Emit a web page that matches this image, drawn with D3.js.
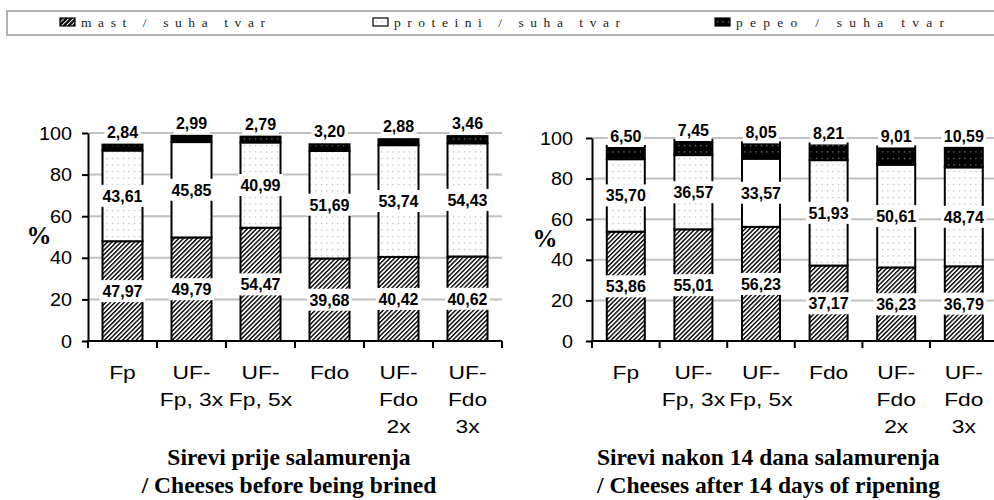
<!DOCTYPE html>
<html>
<head>
<meta charset="utf-8">
<script src="https://cdn.jsdelivr.net/npm/d3@7"></script>
<style>
  body { margin: 0; background: #fff; }
  svg { display: block; }
</style>
</head>
<body>
<svg id="chart" width="994" height="500"></svg>
<script>
// categories (wrapped label lines) and values
var categories = ["Fp", "UF-Fp, 3x", "UF-Fp, 5x", "Fdo", "UF-Fdo 2x", "UF-Fdo 3x"];
var categoryLines = [["Fp"], ["UF-", "Fp, 3x"], ["UF-", "Fp, 5x"], ["Fdo"], ["UF-", "Fdo", "2x"], ["UF-", "Fdo", "3x"]];

var mastBefore = [47.97, 49.79, 54.47, 39.68, 40.42, 40.62];
var proteinBefore = [43.61, 45.85, 40.99, 51.69, 53.74, 54.43];
var ashBefore = [2.84, 2.99, 2.79, 3.20, 2.88, 3.46];

var mastAfter = [53.86, 55.01, 56.23, 37.17, 36.23, 36.79];
var proteinAfter = [35.70, 36.57, 33.57, 51.93, 50.61, 48.74];
var ashAfter = [6.50, 7.45, 8.05, 8.21, 9.01, 10.59];

var yTicks = [0, 20, 40, 60, 80, 100];
var legendNames = ["mast / suha tvar", "proteini / suha tvar", "pepeo / suha tvar"];
var titlesBefore = ["Sirevi prije salamurenja", "/ Cheeses before being brined"];
var titlesAfter = ["Sirevi nakon 14 dana salamurenja", "/ Cheeses after 14 days of ripening"];

var SANS = "'Liberation Sans', Arial, sans-serif";
var SERIF = "'Liberation Serif', 'Times New Roman', serif";

var svg = d3.select("#chart");
var fmt = function(v) { return d3.format(".2f")(v).replace(".", ","); };

// patterns
var defs = svg.append("defs");
var hatch = defs.append("pattern").attr("id", "hatch")
    .attr("patternUnits", "userSpaceOnUse").attr("width", 3.2).attr("height", 3.2)
    .attr("patternTransform", "rotate(45)");
hatch.append("rect").attr("width", 3.2).attr("height", 3.2).attr("fill", "#fff");
hatch.append("rect").attr("width", 1.4).attr("height", 3.2).attr("fill", "#000");

var hatchInv = defs.append("pattern").attr("id", "hatchInv")
    .attr("patternUnits", "userSpaceOnUse").attr("width", 3.4).attr("height", 3.4)
    .attr("patternTransform", "rotate(45)");
hatchInv.append("rect").attr("width", 3.4).attr("height", 3.4).attr("fill", "#000");
hatchInv.append("rect").attr("width", 1).attr("height", 3.4).attr("fill", "#fff");

var dots = defs.append("pattern").attr("id", "dots")
    .attr("patternUnits", "userSpaceOnUse").attr("width", 5.5).attr("height", 6.5);
dots.append("rect").attr("width", 5.5).attr("height", 6.5).attr("fill", "#fff");
dots.append("rect").attr("x", 2).attr("y", 2).attr("width", 1).attr("height", 1).attr("fill", "#888");

var ashDots = defs.append("pattern").attr("id", "ashDots")
    .attr("patternUnits", "userSpaceOnUse").attr("width", 5.5).attr("height", 6.5);
ashDots.append("rect").attr("width", 5.5).attr("height", 6.5).attr("fill", "#000");
ashDots.append("rect").attr("x", 2).attr("y", 2).attr("width", 1).attr("height", 1).attr("fill", "#ddd");

// legend
svg.append("rect").attr("x", 7).attr("y", 11).attr("width", 1000).attr("height", 24)
    .attr("fill", "#fff").attr("stroke", "#999").attr("stroke-width", 1.5);

var legendX = [60, 373, 715];
var legendLen = [184, 226, 208];
var legendFill = ["url(#hatchInv)", "url(#dots)", "url(#ashDots)"];
legendNames.forEach(function(name, i) {
    svg.append("rect").attr("x", legendX[i]).attr("y", 18).attr("width", 15).attr("height", 8)
        .attr("fill", legendFill[i]).attr("stroke", "#000").attr("stroke-width", 1.2);
    svg.append("text").attr("x", legendX[i] + 21).attr("y", 27)
        .attr("font-family", SERIF).attr("font-size", 13.5)
        .attr("fill", "#222")
        .attr("textLength", legendLen[i]).attr("lengthAdjust", "spacing")
        .text(name);
});

function drawChart(o) {
    var x = d3.scaleBand().domain(categories).range([o.x0, o.x0 + o.band * 6]);
    var y = d3.scaleLinear().domain([0, 100]).range([o.y0, o.y100]);
    var g = svg.append("g");

    // grid
    g.selectAll(".grid").data(yTicks.filter(function(d) { return d > 0; })).enter()
        .append("line")
        .attr("x1", o.x0).attr("x2", x.range()[1])
        .attr("y1", function(d) { return y(d); }).attr("y2", function(d) { return y(d); })
        .attr("stroke", "#c0c0c0").attr("stroke-width", 2);

    // stacked bars
    var rows = categories.map(function(c, i) {
        return { cat: c, i: i, mast: o.mast[i], protein: o.protein[i], ash: o.ash[i] };
    });
    var bw = o.barW;
    rows.forEach(function(r) {
        var bx = x(r.cat) + (x.bandwidth() - bw) / 2;
        var plain = r.i === o.plain;
        var segs = [
            { lo: 0, hi: r.mast, fill: "url(#hatch)" },
            { lo: r.mast, hi: r.mast + r.protein, fill: plain ? "#fff" : "url(#dots)" },
            { lo: r.mast + r.protein, hi: r.mast + r.protein + r.ash, fill: o.plainAsh === r.i ? "#000" : "url(#ashDots)" }
        ];
        g.selectAll(null).data(segs).enter().append("rect")
            .attr("x", bx).attr("width", bw)
            .attr("y", function(s) { return y(s.hi); })
            .attr("height", function(s) { return y(s.lo) - y(s.hi); })
            .attr("fill", function(s) { return s.fill; })
            .attr("stroke", "#000").attr("stroke-width", 2);
    });

    // axes
    var yAxis = d3.axisLeft(y).tickValues(yTicks).tickSize(6).tickSizeOuter(0).tickFormat("");
    var ya = g.append("g").attr("transform", "translate(" + o.x0 + ",0)").call(yAxis);
    ya.selectAll("path, line").attr("stroke", "#000").attr("stroke-width", 2);

    g.selectAll(".ylab").data(yTicks).enter().append("text")
        .attr("transform", function(d) { return "translate(" + o.tickLabelX + "," + (y(d) + 6.5) + ") scale(1.1,1)"; })
        .attr("text-anchor", "end")
        .attr("font-family", SANS).attr("font-size", 18)
        .text(function(d) { return d; });

    g.append("line").attr("x1", o.x0 - 1).attr("x2", x.range()[1])
        .attr("y1", o.y0).attr("y2", o.y0).attr("stroke", "#000").attr("stroke-width", 2);
    var bounds = categories.map(function(c) { return x(c); }).concat([x.range()[1]]);
    g.selectAll(".xt").data(bounds).enter().append("line")
        .attr("x1", function(d) { return d; }).attr("x2", function(d) { return d; })
        .attr("y1", o.y0).attr("y2", o.y0 + 7)
        .attr("stroke", "#000").attr("stroke-width", 2);

    categories.forEach(function(c, i) {
        var cx = x(c) + x.bandwidth() / 2;
        categoryLines[i].forEach(function(line, k) {
            g.append("text")
                .attr("transform", "translate(" + cx + "," + (379 + k * 27) + ") scale(1.2,1)")
                .attr("text-anchor", "middle")
                .attr("font-family", SANS).attr("font-size", 19)
                .text(line);
        });
    });

    // % label
    g.append("text").attr("x", o.pctX).attr("y", o.pctY + 8)
        .attr("text-anchor", "middle")
        .attr("font-family", SERIF)
        .attr("font-weight", "bold").attr("font-size", 25)
        .text("%");

    // value labels with white boxes
    var labels = [];
    rows.forEach(function(r) {
        var cx = x(r.cat) + x.bandwidth() / 2;
        labels.push({ cx: cx, cy: y(r.mast / 2), v: r.mast });
        labels.push({ cx: cx, cy: y(r.mast + r.protein / 2), v: r.protein });
        labels.push({ cx: cx, cy: y(r.mast + r.protein + r.ash) - o.ashOff, v: r.ash });
    });
    labels.forEach(function(l) {
        var lg = g.append("g");
        var bg = lg.append("rect").attr("fill", "#fff");
        var t = lg.append("text").attr("x", l.cx).attr("y", l.cy + 6)
            .attr("text-anchor", "middle")
            .attr("font-family", SANS)
            .attr("font-weight", "bold").attr("font-size", 16)
            .text(fmt(l.v));
        var w = t.node().getComputedTextLength() + 5;
        bg.attr("x", l.cx - w / 2).attr("y", l.cy - 11).attr("width", w).attr("height", 22);
    });

    // title
    o.titles.forEach(function(tt, k) {
        g.append("text").attr("x", o.titleX).attr("y", 465 + k * 28)
            .attr("text-anchor", o.titleAnchor)
            .attr("font-family", SERIF)
            .attr("font-weight", "bold").attr("font-size", 23.5)
            .text(tt);
    });
}

drawChart({
    mast: mastBefore, protein: proteinBefore, ash: ashBefore,
    x0: 88, band: 69, barW: 40, y0: 341, y100: 133,
    tickLabelX: 72, pctX: 39, pctY: 236, ashOff: 13,
    plain: 1, plainAsh: 1,
    titles: titlesBefore, titleX: 289, titleAnchor: "middle"
});

drawChart({
    mast: mastAfter, protein: proteinAfter, ash: ashAfter,
    x0: 592, band: 67.6, barW: 38, y0: 341, y100: 138,
    tickLabelX: 573, pctX: 545, pctY: 239, ashOff: 10,
    plain: 2, plainAsh: -1,
    titles: titlesAfter, titleX: 597, titleAnchor: "start"
});
</script>
</body>
</html>
